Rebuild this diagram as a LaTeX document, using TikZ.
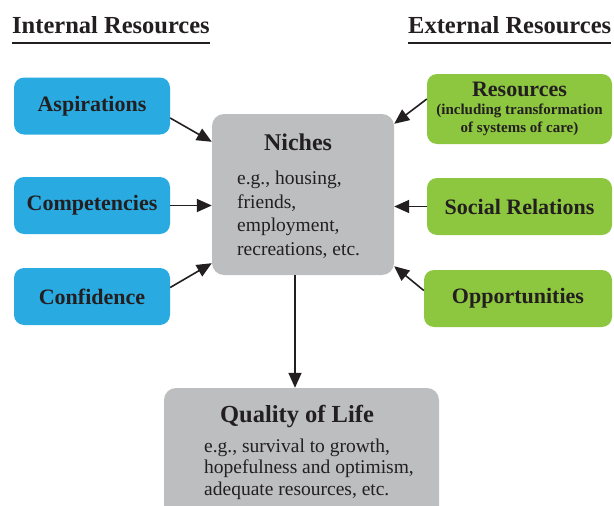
\documentclass[tikz,border=0pt]{standalone}
\usepackage{fontspec}
\setmainfont{Liberation Serif}
\usetikzlibrary{arrows.meta}
\definecolor{intblue}{HTML}{29ABE2}
\definecolor{extgreen}{HTML}{8DC63F}
\definecolor{nichegray}{HTML}{BCBEC0}
\definecolor{inkblack}{HTML}{231F20}
\tikzset{
  resbox/.style={rounded corners=10pt, inner sep=0pt, text=inkblack, align=center,
    font=\fontsize{22}{18}\selectfont\bfseries},
  intbox/.style={resbox, fill=intblue, minimum width=156pt, minimum height=57pt},
  extbox/.style={resbox, fill=extgreen, minimum width=185pt, minimum height=57pt},
  graybox/.style={rounded corners=12pt, fill=nichegray, inner sep=0pt},
  heading/.style={anchor=base west, inner sep=0pt, text=inkblack,
    font=\fontsize{24.5}{28}\selectfont\bfseries},
  bodytext/.style={anchor=base west, inner sep=0pt, text=inkblack, align=left},
  feed/.style={line width=1.6pt, draw=inkblack, -{Triangle[length=15pt,width=13pt]}},
}
\begin{document}
\begin{tikzpicture}[x=1pt,y=-1pt]
\useasboundingbox (0,0) rectangle (614,506);
\clip (0,0) rectangle (614,506);

% headings
\node[heading] (inthead) at (12,34) {Internal Resources};
\node[heading] (exthead) at (408,34) {External Resources};
\draw[line width=2pt,inkblack] ([yshift=-9pt]inthead.base west) -- ([yshift=-9pt]inthead.base east);
\draw[line width=2pt,inkblack] ([yshift=-9pt]exthead.base west) -- ([yshift=-9pt]exthead.base east);

% internal
\node[intbox] (asp)  at (92,106)   {Aspirations};
\node[intbox] (comp) at (92,205.5) {Competencies};
\node[intbox] (conf) at (92,296.5) {Confidence};

% external
\node[extbox, minimum height=70pt] (res) at (519.5,109)
  {Resources\\{\fontsize{15}{18}\selectfont (including transformation}\\{\fontsize{15}{18}\selectfont of systems of care)}};
\node[extbox] (soc) at (519.5,206.5) {Social Relations};
\node[extbox, minimum width=188pt] (opp) at (518,298.5) {Opportunities};

% niches
\node[graybox, minimum width=182pt, minimum height=161pt] (niches) at (303,194.5) {};
\node[anchor=base, inner sep=0pt, text=inkblack, font=\fontsize{24}{28}\selectfont\bfseries] (nichtitle) at (298,150) {Niches};
\node[bodytext, font=\fontsize{19.5}{23.5}\selectfont] (nichtext) at (237,255)
  {e.g., housing,\\friends,\\employment,\\recreations, etc.};

% quality of life
\node[graybox, minimum width=275pt, minimum height=132pt] (qol) at (301.5,454) {};
\node[anchor=base, inner sep=0pt, text=inkblack, font=\fontsize{24.5}{28}\selectfont\bfseries] (qoltitle) at (297,422) {Quality of Life};
\node[bodytext, font=\fontsize{19.5}{21.5}\selectfont] (qoltext) at (204,495)
  {e.g., survival to growth,\\hopefulness and optimism,\\adequate resources, etc.};

\begin{scope}[feed]
   \draw ([yshift=-12pt]asp.east) -- ([yshift=-28pt]niches.north west);
   \draw (comp.east) -- (comp.east -| niches.west);
   \draw ([yshift=9pt]conf.east) -- ([yshift=12pt]niches.south west);
   \draw ([yshift=10pt]res.west) -- ([yshift=-10pt]niches.north east);
   \draw (soc.west) -- (soc.west -| niches.east);
   \draw ([yshift=8pt]opp.west) -- ([yshift=9pt]niches.south east);
   \draw ([xshift=-8pt]niches.south) -- ([xshift=-6.5pt]qol.north);
\end{scope}
\end{tikzpicture}
\end{document}
